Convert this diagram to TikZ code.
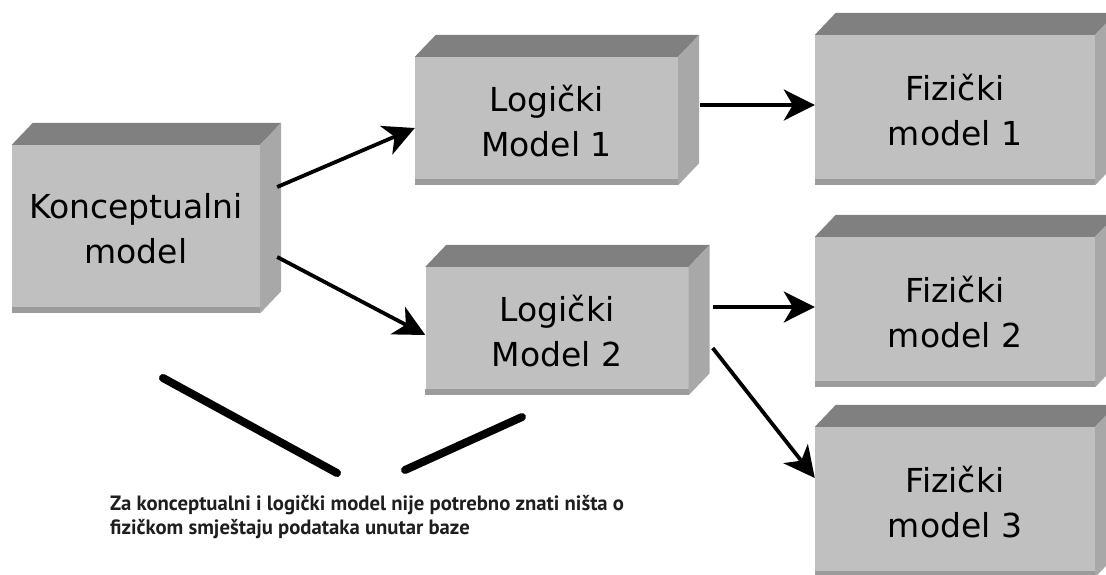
\documentclass[tikz,border=0pt]{standalone}
\usepackage{fontspec}
\setmainfont{DejaVu Sans}
\newfontfamily\notefont{PT Sans}
\usetikzlibrary{arrows.meta}

\definecolor{frontgray}{HTML}{C0C0C0}
\definecolor{topgray}{HTML}{808080}
\definecolor{sidegray}{HTML}{A8A8A8}
\definecolor{bottomgray}{HTML}{9C9C9C}
\definecolor{notetext}{HTML}{1E1E1E}

\begin{document}
\begin{tikzpicture}[x=1pt, y=-1pt,
  front/.style={fill=frontgray, inner sep=0, align=center, font=\fontsize{33}{45}\selectfont},
  logbox/.style={front, minimum width=263pt, minimum height=128pt},
  fizbox/.style={front, minimum width=280pt, minimum height=150pt},
  arr/.style={line width=3.8pt, -{Stealth[length=31pt, width=31pt, inset=9pt]}},
  bar/.style={line width=8pt, line cap=round}]
\useasboundingbox (0,0) rectangle (1106,574);

% boxes
\node[front, minimum width=248pt, minimum height=168pt] (konc) at (136,229) {Konceptualni\\model};
\node[logbox] (log1) at (546.5,121) {Logički\\Model 1};
\node[logbox] (log2) at (557,331) {Logički\\Model 2};
\node[fizbox] (fiz1) at (955,110) {Fizički\\model 1};
\node[fizbox] (fiz2) at (955,312) {Fizički\\model 2};
\node[fizbox] (fiz3) at (955,502) {Fizički\\model 3};

% top and side faces
\foreach \n in {konc,log1,log2,fiz1,fiz2,fiz3} {
  \fill[topgray] (\n.north west) -- ([shift={(21pt,22pt)}]\n.north west)
    -- ([shift={(21pt,22pt)}]\n.north east) -- (\n.north east) -- cycle;
  \fill[sidegray] (\n.north east) -- ([shift={(21pt,22pt)}]\n.north east)
    -- ([shift={(21pt,22pt)}]\n.south east) -- (\n.south east) -- cycle;
  \fill[bottomgray] ([yshift=6pt]\n.south west) rectangle (\n.south east);
}

% arrows
\draw[arr] ([xshift=17pt,yshift=42pt]konc.east) -- ([yshift=-7pt]log1.west);
\draw[arr] ([xshift=17pt,yshift=-28pt]konc.east) -- ([yshift=-4pt]log2.west);
\draw[arr] ([xshift=22pt,yshift=16pt]log1.east) -- ([yshift=5pt]fiz1.west);
\draw[arr] ([xshift=24pt,yshift=24pt]log2.east) -- ([yshift=5pt]fiz2.west);
\draw[arr] ([xshift=24pt,yshift=-17pt]log2.east) -- ([yshift=24pt]fiz3.west);

% note
\coordinate (bar1a) at (163,378);
\coordinate (bar1b) at (337,473);
\coordinate (bar2a) at (405,470);
\coordinate (bar2b) at (522,417);
\draw[bar] (bar1a) -- (bar1b);
\draw[bar] (bar2a) -- (bar2b);
\node[anchor=north west, inner sep=0, align=left, text=notetext,
  font=\notefont\bfseries\fontsize{20.7}{24}\selectfont] (note) at (110,495)
  {Za konceptualni i logički model nije potrebno znati ništa o\\fizičkom smještaju podataka unutar baze};

\end{tikzpicture}
\end{document}
